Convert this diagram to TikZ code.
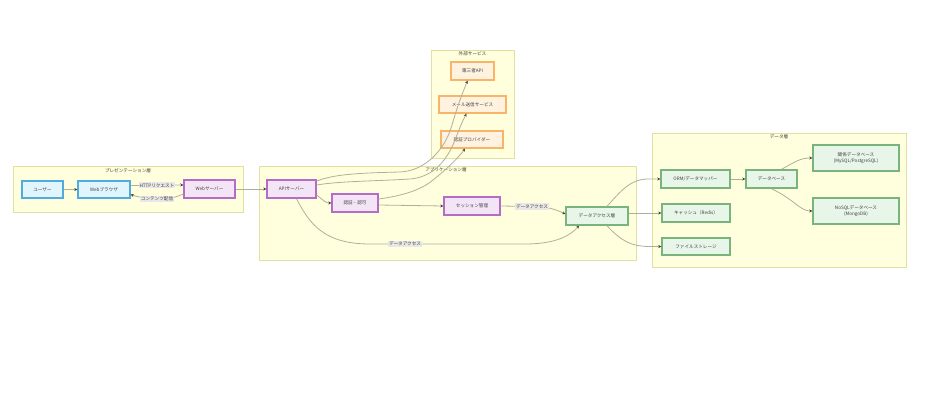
\documentclass[tikz,border=0pt]{standalone}
\usepackage{fontspec}
\setmainfont{Noto Sans CJK JP}
\usetikzlibrary{arrows.meta}
\definecolor{layerfill}{HTML}{FFFFDE}
\definecolor{layerdraw}{HTML}{E0E0A0}
\definecolor{presfill}{HTML}{E1F5FE}
\definecolor{presdraw}{HTML}{52ABDD}
\definecolor{appfill}{HTML}{F3E5F5}
\definecolor{appdraw}{HTML}{B46CC8}
\definecolor{extfill}{HTML}{FFF3E0}
\definecolor{extdraw}{HTML}{F8B56A}
\definecolor{datafill}{HTML}{E8F5E9}
\definecolor{datadraw}{HTML}{78B47C}
\definecolor{edgecol}{HTML}{B0B098}
\definecolor{lblfill}{HTML}{E8E8E8}
\tikzset{
  layerbox/.style={draw=layerdraw, fill=layerfill, line width=0.9pt},
  layertitle/.style={font=\fontsize{4.6}{5.5}\selectfont, text=black!75, inner sep=0pt},
  box/.style={rectangle, line width=1.4pt, inner sep=0pt, font=\fontsize{4.6}{6}\selectfont, text=black!75, align=center},
  pres/.style={box, draw=presdraw, fill=presfill},
  app/.style={box, draw=appdraw, fill=appfill},
  ext/.style={box, draw=extdraw, fill=extfill},
  dat/.style={box, draw=datadraw, fill=datafill},
  edge/.style={draw=edgecol, line width=0.8pt, -{Stealth[length=3pt,width=3pt,color=black!75]}},
  lbl/.style={fill=lblfill, inner sep=1pt, font=\fontsize{4.6}{5.5}\selectfont, text=black!75}
}
\begin{document}
\begin{tikzpicture}[x=1pt,y=-1pt]
\useasboundingbox[fill=white] (0,0) rectangle (935,404);
% layers
\draw[layerbox] (13,166) rectangle (243,212);
\node[layertitle] (tpres) at (128,171) {プレゼンテーション層};
\draw[layerbox] (259,166) rectangle (636,260);
\node[layertitle] (tapp) at (446,170) {アプリケーション層};
\draw[layerbox] (431,50) rectangle (514,158);
\node[layertitle] (text) at (472.5,54) {外部サービス};
\draw[layerbox] (652,133) rectangle (906,267);
\node[layertitle] (tdata) at (779,137) {データ層};
% nodes
\node[pres, minimum width=41, minimum height=17] (user) at (42.5,189.5) {ユーザー};
\node[pres, minimum width=52, minimum height=17] (browser) at (104,189.5) {Webブラウザ};
\node[app, minimum width=51, minimum height=18] (websrv) at (209.5,189) {Webサーバー};
\node[app, minimum width=49, minimum height=18] (api) at (291.5,189) {APIサーバー};
\node[app, minimum width=46, minimum height=18] (auth) at (355,203) {認証・認可};
\node[app, minimum width=56, minimum height=18] (session) at (472,206) {セッション管理};
\node[dat, minimum width=62, minimum height=18] (dal) at (597,216) {データアクセス層};
\node[ext, minimum width=43, minimum height=18] (third) at (472.5,71) {第三者API};
\node[ext, minimum width=67, minimum height=17] (mail) at (472.5,104.5) {メール送信サービス};
\node[ext, minimum width=62, minimum height=17] (authprov) at (472,139.5) {認証プロバイダー};
\node[dat, minimum width=69, minimum height=18] (orm) at (695.5,179) {ORM/データマッパー};
\node[dat, minimum width=51, minimum height=18] (db) at (771.5,179) {データベース};
\node[dat, minimum width=86, minimum height=26] (rdb) at (856,158) {関係データベース\\(MySQL/PostgreSQL)};
\node[dat, minimum width=86, minimum height=26] (nosql) at (856,211) {NoSQLデータベース\\(MongoDB)};
\node[dat, minimum width=68, minimum height=18] (cache) at (696,213) {キャッシュ（Redis）};
\node[dat, minimum width=68, minimum height=17] (file) at (696,246.5) {ファイルストレージ};
% edges
\draw[edge] (user.east) -- (browser.west);
\draw[edge] ([yshift=4pt]browser.east) -- node[lbl] (lhttp) {HTTPリクエスト} ([yshift=4pt]websrv.west);
\draw[edge] ([yshift=-5pt]websrv.west) .. controls (172,199) and (165,199) .. (157,199)
  node[lbl] (lcont) {コンテンツ配信}
  .. controls (148,199) and (138,197) .. ([yshift=-5pt]browser.east);
\draw[edge] (websrv.east) -- (api.west);
\draw[edge] ([yshift=-6pt]api.east) .. controls (324,201) and (326,203) .. (auth.west);
\draw[edge] ([yshift=8pt]api.east) .. controls (335,174) and (360,173) .. (400,172)
  .. controls (425,171) and (445,150) .. (452,125)
  .. controls (458,104) and (463,92) .. ([xshift=-5pt]third.south);
\draw[edge] ([yshift=4pt]api.east) .. controls (340,181) and (380,181) .. (410,179)
  .. controls (435,177) and (448,158) .. (455,140)
  .. controls (460,127) and (463,120) .. ([xshift=-6pt]mail.south);
\draw[edge] ([yshift=4pt]auth.east) .. controls (400,196) and (420,191) .. (433,180)
  .. controls (448,168) and (458,158) .. ([xshift=-7pt]authprov.south);
\draw[edge] ([yshift=-2pt]auth.east) -- ([yshift=0pt]session.west);
\draw[edge] (session.east) -- (532,206.5) node[lbl] (lda1) {データアクセス}
  .. controls (548,207) and (555,209) .. ([yshift=2pt]dal.west);
\draw[edge] ([xshift=5pt]api.south) .. controls (310,225) and (325,244) .. (370,244)
  -- (405,244) node[lbl] (lda2) {データアクセス}
  -- (525,244) .. controls (555,244) and (570,236) .. ([xshift=-18pt]dal.south);
\draw[edge] ([xshift=10pt]dal.north) .. controls (620,192) and (630,179) .. (648,179) -- (orm.west);
\draw[edge] ([yshift=3pt]dal.east) -- (cache.west);
\draw[edge] ([xshift=10pt]dal.south) .. controls (622,242) and (632,246) .. (648,246.5) -- (file.west);
\draw[edge] (orm.east) -- (db.west);
\draw[edge] ([xshift=10pt]db.north) .. controls (795,162) and (800,158) .. (rdb.west);
\draw[edge] ([xshift=0pt]db.south) .. controls (795,200) and (800,211) .. (nosql.west);
\end{tikzpicture}
\end{document}
